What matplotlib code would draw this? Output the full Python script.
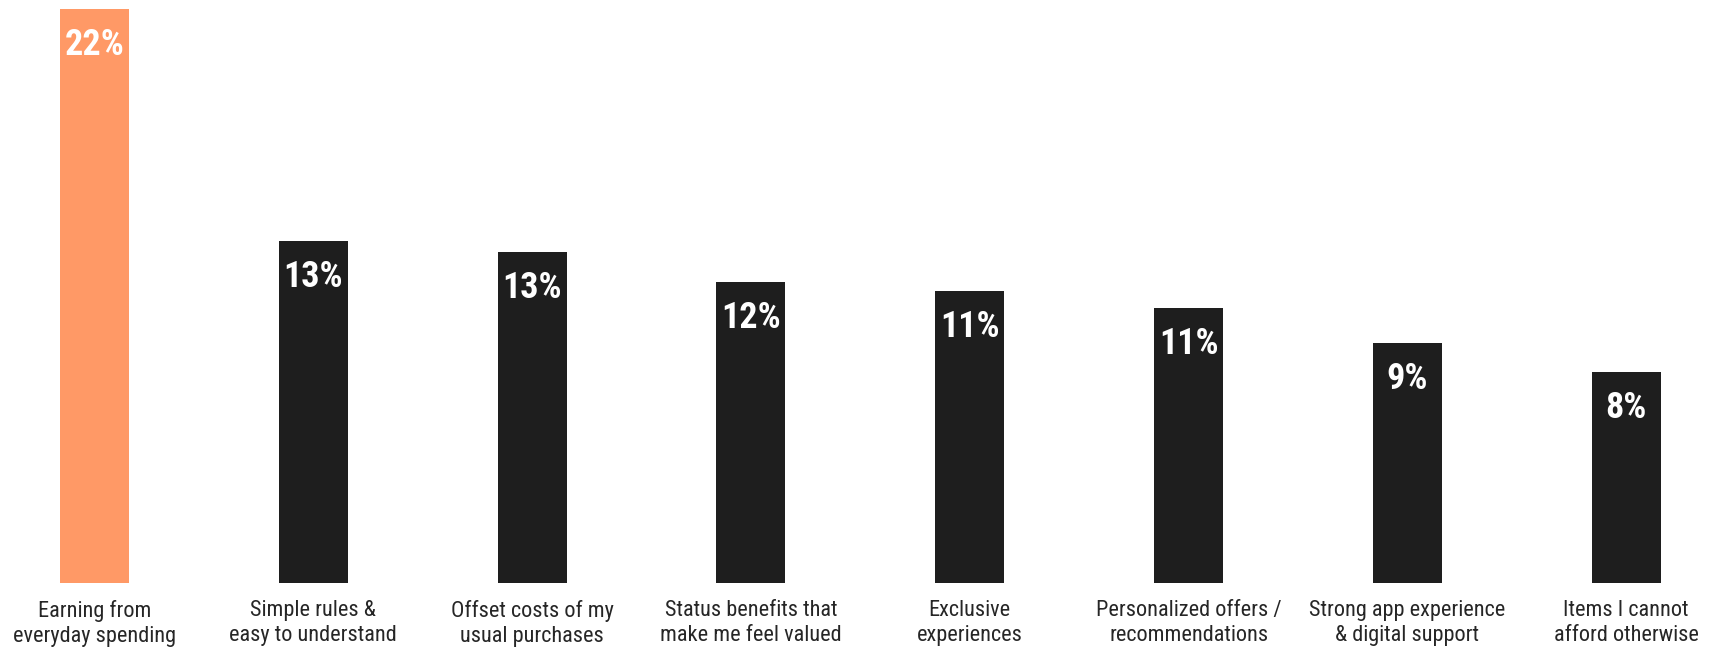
import matplotlib
matplotlib.use("Agg")
import matplotlib.pyplot as plt

# data
categories = [
    "Earning from\neveryday spending",
    "Simple rules &\neasy to understand",
    "Offset costs of my\nusual purchases",
    "Status benefits that\nmake me feel valued",
    "Exclusive\nexperiences",
    "Personalized offers /\nrecommendations",
    "Strong app experience\n& digital support",
    "Items I cannot\nafford otherwise",
]
values = [22.0, 13.1, 12.7, 11.55, 11.2, 10.55, 9.2, 8.1]
highlight = [True, False, False, False, False, False, False, False]

plt.rcParams['font.family'] = ['Roboto Condensed', 'DejaVu Sans']

fig = plt.figure(figsize=(17.24, 6.49), dpi=100)
ax = fig.add_axes([0, 0.1017, 1, 0.884])

colors = ['#FF9966' if h else '#1E1E1E' for h in highlight]
x = list(range(len(values)))
bars = ax.bar(x, values, width=0.315, color=colors)

for xi, v in zip(x, values):
    ax.annotate(f"{v:.0f}%", (xi, v), xytext=(0, -13), textcoords='offset points',
                ha='center', va='top', color='white', fontsize=26, fontweight='bold')

ax.set_xlim(-0.432, 7.447)
ax.set_ylim(0, 22)
ax.set_xticks(x)
ax.set_xticklabels(categories, fontsize=16, color='#262626', linespacing=1.25)
ax.tick_params(axis='x', length=0, pad=12)
ax.set_yticks([])
for s in ax.spines.values():
    s.set_visible(False)

fig.savefig("out.png", dpi=100)
